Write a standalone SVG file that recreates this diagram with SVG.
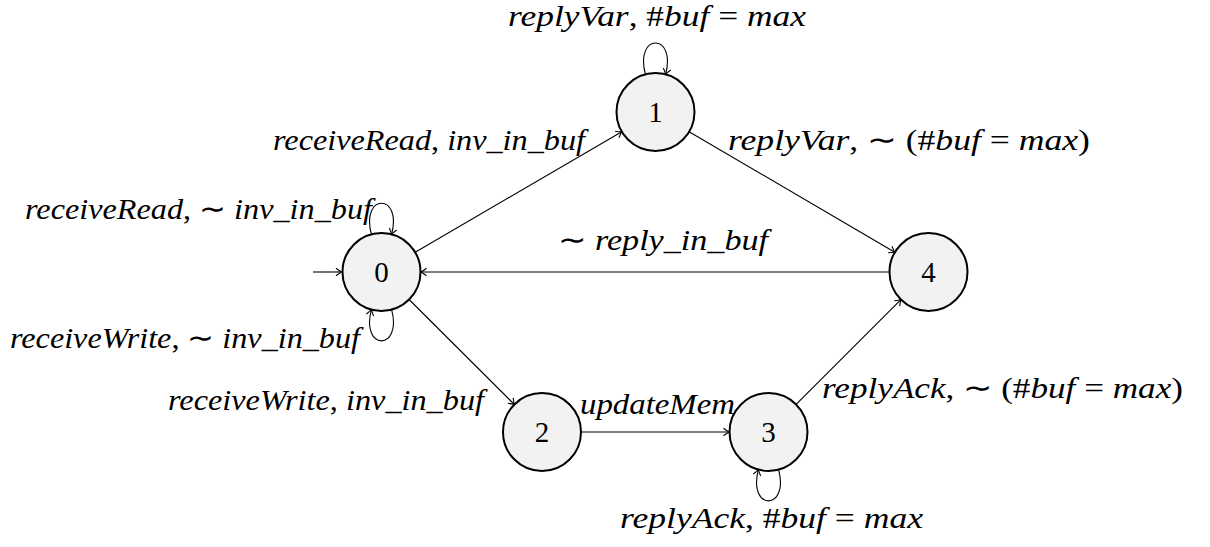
<svg xmlns="http://www.w3.org/2000/svg" width="1210" height="547" viewBox="0 0 1210 547">
<style>
.node circle{fill:#f2f2f2;stroke:#000;stroke-width:2}
.node text{font-family:"Liberation Serif","Times New Roman",serif;font-size:29px;text-anchor:middle;fill:#000}
.edges path,.edges line{fill:none;stroke:#000;stroke-width:1.1;marker-end:url(#tip)}
.lbl{font-family:"Liberation Serif","Times New Roman",serif;font-size:30px;font-style:italic;fill:#000}
.up{font-style:normal}
</style>
<defs>
<marker id="tip" viewBox="-7 -5 8 10" markerWidth="8" markerHeight="10" refX="0" refY="0" orient="auto" markerUnits="userSpaceOnUse">
<path d="M-5.5,-3.8 Q-2,-1 0,0 Q-2,1 -5.5,3.8" fill="none" stroke="#000" stroke-width="1.1"/>
</marker>
</defs>
<g class="edges">
<line x1="313" y1="272" x2="341.5" y2="272"/>
<line x1="415.2" y1="252.3" x2="621.8" y2="131.7"/>
<line x1="689.1" y1="131.7" x2="894.8" y2="252.3"/>
<line x1="889" y1="272" x2="421" y2="272"/>
<line x1="409.1" y1="299.5" x2="514.4" y2="404.5"/>
<line x1="581" y1="432" x2="729" y2="432"/>
<line x1="796.1" y1="404.4" x2="900.9" y2="299.6"/>
<path d="M371.4,234.3 C360.3,192.8 402.7,192.8 391.6,234.3"/>
<path d="M391.6,309.7 C402.7,351.2 360.3,351.2 371.4,309.7"/>
<path d="M645.4,74.3 C634.3,32.6 676.7,32.6 665.6,74.3"/>
<path d="M778.6,469.7 C789.7,511.2 747.3,511.2 758.4,469.7"/>
</g>
<g id="node0" class="node"><circle cx="381.5" cy="272" r="39"/><text x="381.5" y="282">0</text></g>
<g id="node1" class="node"><circle cx="655.5" cy="112" r="39"/><text x="655.5" y="122">1</text></g>
<g id="node2" class="node"><circle cx="542" cy="432" r="39"/><text x="542" y="442">2</text></g>
<g id="node3" class="node"><circle cx="768.5" cy="432" r="39"/><text x="768.5" y="442">3</text></g>
<g id="node4" class="node"><circle cx="928.5" cy="272" r="39"/><text x="928.5" y="282">4</text></g>
<g id="labels">
<text class="lbl" x="508" y="26" font-size="27" textLength="298" lengthAdjust="spacingAndGlyphs">replyVar<tspan class="up">, #</tspan>buf <tspan class="up">=</tspan> max</text>
<text class="lbl" x="273" y="150" textLength="312" lengthAdjust="spacingAndGlyphs">receiveRead<tspan class="up">, </tspan>inv_in_buf</text>
<text class="lbl" x="25" y="219" textLength="347" lengthAdjust="spacingAndGlyphs">receiveRead<tspan class="up">, ∼ </tspan>inv_in_buf</text>
<text class="lbl" x="10" y="348" textLength="350" lengthAdjust="spacingAndGlyphs">receiveWrite<tspan class="up">, ∼ </tspan>inv_in_buf</text>
<text class="lbl" x="168" y="410" textLength="316" lengthAdjust="spacingAndGlyphs">receiveWrite<tspan class="up">, </tspan>inv_in_buf</text>
<text class="lbl" x="580" y="414" textLength="155" lengthAdjust="spacingAndGlyphs">updateMem</text>
<text class="lbl" x="728" y="150" textLength="362" lengthAdjust="spacingAndGlyphs">replyVar<tspan class="up">, ∼ (#</tspan>buf <tspan class="up">=</tspan> max<tspan class="up">)</tspan></text>
<text class="lbl" x="558" y="250" textLength="210" lengthAdjust="spacingAndGlyphs"><tspan class="up">∼ </tspan>reply_in_buf</text>
<text class="lbl" x="822" y="398" textLength="361" lengthAdjust="spacingAndGlyphs">replyAck<tspan class="up">, ∼ (#</tspan>buf <tspan class="up">=</tspan> max<tspan class="up">)</tspan></text>
<text class="lbl" x="620" y="528" textLength="303" lengthAdjust="spacingAndGlyphs">replyAck<tspan class="up">, #</tspan>buf <tspan class="up">=</tspan> max</text>
</g>
</svg>
